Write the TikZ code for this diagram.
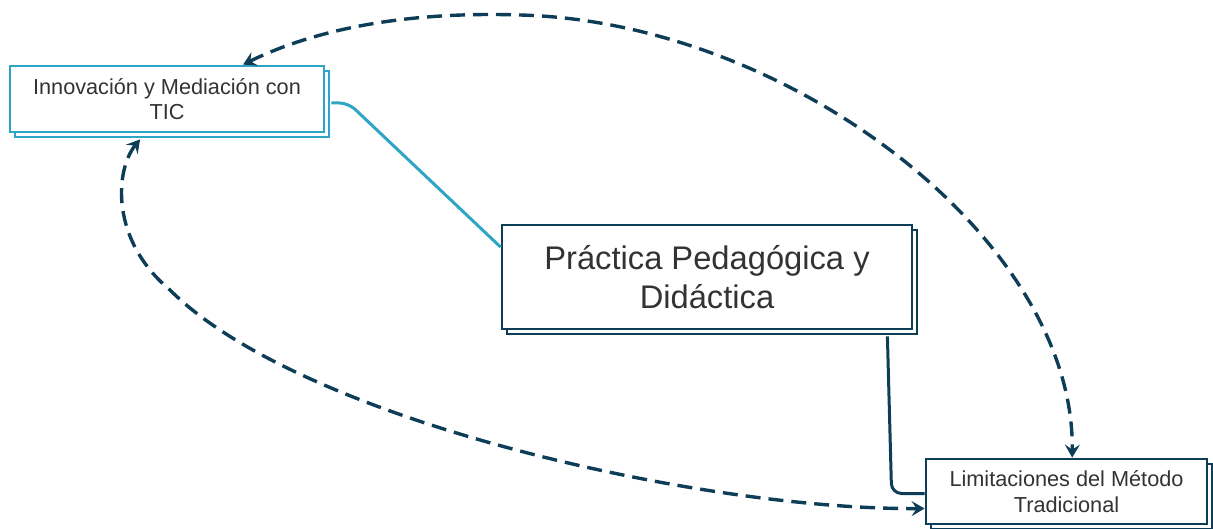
\documentclass[tikz,border=0pt]{standalone}
\usepackage{fontspec}
\setmainfont{Liberation Sans}
\usetikzlibrary{arrows.meta,shadows,calc}
\definecolor{navy}{HTML}{0E3D58}
\definecolor{tealc}{HTML}{2EA5C5}
\definecolor{txt}{HTML}{333333}
\begin{document}
\begin{tikzpicture}[x=1pt,y=-1pt,
  box/.style={draw=#1, fill=white, line width=2.8pt, align=center, text=txt, inner sep=0pt,
    copy shadow={shadow xshift=5pt, shadow yshift=-5pt, draw=#1, fill=white, line width=2.8pt}},
  smallfont/.style={font=\fontsize{21.7}{25.5}\selectfont},
  bigfont/.style={font=\fontsize{32.7}{39}\selectfont},
  link/.style={navy, line width=3.4pt, dash pattern=on 15pt off 8pt,
    {Stealth[length=13pt,width=15pt,inset=5pt]}-{Stealth[length=13pt,width=15pt,inset=5pt]}}
]
\useasboundingbox (0,0) rectangle (1213,529);
\node[box=tealc, smallfont, minimum width=314pt, minimum height=66pt] (inn) at (167,99)
  {Innovación y Mediación con\\TIC};
\node[box=navy, bigfont, minimum width=410pt, minimum height=104pt] (pr) at (707,277)
  {Práctica Pedagógica y\\Didáctica};
\node[box=navy, smallfont, minimum width=281pt, minimum height=65pt] (lim) at (1066.5,491.5)
  {Limitaciones del Método\\Tradicional};
% solid connectors
\draw[tealc, line width=3pt, rounded corners=9pt]
  ($(inn.east)+(6,4)$) -- ++(17,0) -- ($(pr.north west)!0.22!(pr.south west)$);
\draw[navy, line width=3pt, rounded corners=10pt]
  ($(pr.south east)+(-26,6)$) -- ($(lim.west)+(-33,2)$) -- ($(lim.west)+(0,2)$);
% dashed links
\coordinate (a) at ($(inn.north west)!0.74!(inn.north east)$);
\coordinate (b) at ($(lim.north west)!0.52!(lim.north east)$);
\coordinate (c) at ($(inn.south west)!0.415!(inn.south east)+(0,6)$);
\coordinate (d) at ($(lim.west)+(0,17)$);
\draw[link] (a) .. controls (330,22) and (430,12) .. (520,15)
  .. controls (790,22) and (1075,240) .. (b);
\draw[link] (c) .. controls (115,170) and (110,240) .. (170,290)
  .. controls (300,420) and (700,510) .. (d);
\end{tikzpicture}
\end{document}
